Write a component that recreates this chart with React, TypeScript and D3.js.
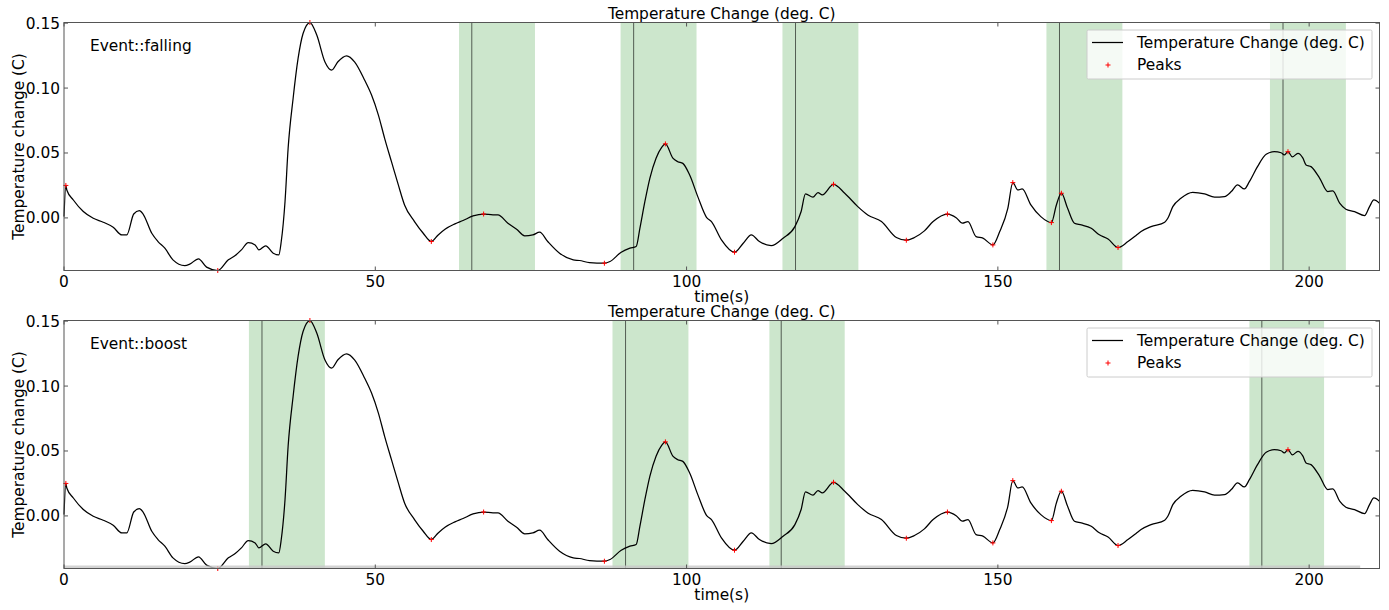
import React from "react";
import * as d3 from "d3";

// ---- data ----
const times = [0, 0.3, 0.45, 1.5, 3.1, 4.7, 6.3, 7.9, 9.3, 10.1, 11.2, 12.1, 12.7, 14.1, 15.1, 16.2, 17.5, 19.4, 20.2, 21.6, 22.9, 24.7, 26.4, 27.5, 28.5, 29.6, 30.7, 31.3, 32.4, 33.6, 34.5, 34.9, 35.5, 36.0, 36.8, 37.6, 38.4, 39.5, 40.6, 41.9, 43.0, 44.0, 45.4, 46.7, 48.3, 49.4, 50.5, 51.5, 52.6, 53.7, 54.7, 56.3, 57.7, 59.0, 60.1, 61.2, 62.8, 64.1, 65.7, 67.4, 68.9, 69.7, 71.3, 72.7, 74.0, 75.3, 76.4, 77.7, 79.6, 81.8, 82.8, 84.4, 86.8, 87.7, 89.5, 90.9, 91.9, 92.5, 93.3, 94.1, 95.1, 96.0, 96.6, 97.8, 98.6, 99.4, 100.5, 101.8, 103.2, 104.0, 105.6, 107.7, 109.1, 110.4, 111.7, 113.6, 115.5, 117.4, 118.4, 119.1, 120.3, 121.1, 121.8, 123.6, 125.4, 127.5, 129.1, 131.3, 133.7, 135.3, 136.6, 138.2, 139.6, 141.9, 143.3, 144.3, 145.2, 146.5, 147.6, 149.2, 150.3, 151.6, 152.4, 153.2, 153.9, 155.3, 156.9, 158.6, 159.4, 160.2, 161.2, 162.3, 163.4, 165.0, 166.3, 167.7, 169.3, 170.9, 172.2, 173.0, 174.6, 176.8, 177.3, 178.1, 179.4, 181.3, 183.2, 184.8, 186.4, 187.5, 188.5, 189.6, 190.4, 191.7, 193.1, 194.4, 195.5, 196.0, 196.6, 197.3, 198.2, 199.0, 199.5, 200.3, 201.7, 203.0, 203.8, 204.9, 205.9, 207.3, 208.9, 209.7, 210.4, 211.3];
const temps = [0.001, 0.025, 0.0215, 0.0138, 0.0049, -0.0003, -0.0033, -0.0072, -0.0131, -0.013, 0.003, 0.0056, 0.003, -0.0118, -0.0182, -0.0233, -0.0323, -0.0367, -0.0356, -0.0315, -0.0379, -0.0405, -0.0323, -0.029, -0.0246, -0.019, -0.0208, -0.0246, -0.0215, -0.0272, -0.0285, -0.018, 0.0125, 0.0536, 0.092, 0.1228, 0.142, 0.1505, 0.1408, 0.1203, 0.1138, 0.1203, 0.1248, 0.12, 0.106, 0.0946, 0.0792, 0.0613, 0.0433, 0.0254, 0.01, -0.0028, -0.0118, -0.0182, -0.0131, -0.0087, -0.0046, -0.002, 0.0015, 0.003, 0.0023, 0.0023, -0.0041, -0.0087, -0.0138, -0.0131, -0.011, -0.0182, -0.0272, -0.0323, -0.0328, -0.0344, -0.0349, -0.0336, -0.0264, -0.0233, -0.022, -0.008, 0.0125, 0.0305, 0.046, 0.0544, 0.057, 0.046, 0.0433, 0.042, 0.033, 0.0164, 0.0005, -0.0028, -0.0169, -0.0264, -0.0195, -0.0131, -0.0182, -0.0213, -0.0156, -0.0067, 0.0049, 0.0185, 0.016, 0.0195, 0.0178, 0.0259, 0.019, 0.0087, 0.0023, -0.0028, -0.0151, -0.0172, -0.0151, -0.01, -0.0028, 0.003, 0.0002, -0.0041, -0.0028, -0.0144, -0.0156, -0.0208, -0.0105, 0.0074, 0.0272, 0.0215, 0.0223, 0.01, 0.001, -0.0036, 0.01, 0.019, 0.0074, -0.0041, -0.0054, -0.008, -0.013, -0.0162, -0.0228, -0.0182, -0.0135, -0.0105, -0.0067, -0.0033, -0.0003, 0.0087, 0.0151, 0.0197, 0.0185, 0.016, 0.0164, 0.0203, 0.0254, 0.0223, 0.0279, 0.0395, 0.049, 0.051, 0.0502, 0.0485, 0.051, 0.047, 0.0497, 0.046, 0.0408, 0.0395, 0.0305, 0.0203, 0.0208, 0.0113, 0.0067, 0.0049, 0.0018, 0.0087, 0.0138, 0.0113];

const peakTimes = [0.3, 24.7, 39.5, 59.0, 67.4, 86.8, 96.6, 107.7, 123.6, 135.3, 141.9, 149.2, 152.4, 158.6, 160.2, 169.3, 196.6];
const peakValues = [0.025, -0.0405, 0.1505, -0.0182, 0.003, -0.0349, 0.057, -0.0264, 0.0259, -0.0172, 0.003, -0.0208, 0.0272, -0.0036, 0.019, -0.0228, 0.051];

const fallingStarts = [63.45, 89.4, 115.4, 157.8, 193.7];
const fallingEnds = [75.65, 101.6, 127.6, 170.0, 205.9];
const fallingMarks = [65.5, 91.5, 117.5, 159.9, 195.8];

const boostStarts = [29.7, 88.1, 113.3, 190.4];
const boostEnds = [41.9, 100.3, 125.4, 202.4];
const boostMarks = [31.8, 90.2, 115.2, 192.4];

const xTicks = [0, 50, 100, 150, 200];
const yTicks = [0, 0.05, 0.1, 0.15];
const yTickLabels = ["0.00", "0.05", "0.10", "0.15"];

const panelNames = ["Event::falling", "Event::boost"];
const titleText = "Temperature Change (deg. C)";
const xLabel = "time(s)";
const yLabel = "Temperature change (C)";
const legendLabels = ["Temperature Change (deg. C)", "Peaks"];
const noEventEnd = 208.2;

// ---- layout ----
const W = 1389;
const H = 610;
const L = 64;
const R = 1379.5;
const FONT = "DejaVu Sans, sans-serif";
const FS = 15.4;

function Panel({ top, bottom, name, starts, ends, marks, grayBand }) {
  const x = d3.scaleLinear().domain([0, 211.3]).range([L, R]);
  const y = d3.scaleLinear().domain([-0.0405, 0.1505]).range([bottom, top]);
  const line = d3
    .line<number>()
    .x((_, i) => x(times[i]))
    .y((d) => y(d))
    .curve(d3.curveMonotoneX);
  const tl = 4;
  const cx = (L + R) / 2;
  return (
    <g>
      {starts.map((s, i) => (
        <rect key={"s" + i} x={x(s)} y={top} width={x(ends[i]) - x(s)} height={bottom - top} fill="#008000" fillOpacity={0.2} />
      ))}
      {marks.map((m, i) => (
        <line key={"m" + i} x1={x(m)} x2={x(m)} y1={top} y2={bottom} stroke="#000" strokeOpacity={0.6} strokeWidth={1} />
      ))}
      <path d={line(temps) || ""} fill="none" stroke="#000" strokeWidth={1.25} />
      {peakTimes.map((t, i) => (
        <g key={"p" + i} stroke="#ff0000" strokeWidth={1}>
          <line x1={x(t) - 2.5} x2={x(t) + 2.5} y1={y(peakValues[i])} y2={y(peakValues[i])} />
          <line x1={x(t)} x2={x(t)} y1={y(peakValues[i]) - 2.5} y2={y(peakValues[i]) + 2.5} />
        </g>
      ))}
      {grayBand && (
        <rect x={x(0)} y={bottom - 3} width={x(noEventEnd) - x(0)} height={3} fill="#c8c8c8" opacity={0.8} />
      )}
      <rect x={L} y={top} width={R - L} height={bottom - top} fill="none" stroke="#555" strokeWidth={1} />
      {xTicks.map((t) => (
        <g key={"xt" + t}>
          <line x1={x(t)} x2={x(t)} y1={bottom} y2={bottom - tl} stroke="#555" />
          <line x1={x(t)} x2={x(t)} y1={top} y2={top + tl} stroke="#555" />
          <text x={x(t)} y={bottom + 16} textAnchor="middle" fontFamily={FONT} fontSize={FS} fill="#000">
            {t}
          </text>
        </g>
      ))}
      {yTicks.map((t, i) => (
        <g key={"yt" + t}>
          <line x1={L} x2={L + tl} y1={y(t)} y2={y(t)} stroke="#555" />
          <line x1={R} x2={R - tl} y1={y(t)} y2={y(t)} stroke="#555" />
          <text x={60} y={y(t) + 5.5} textAnchor="end" fontFamily={FONT} fontSize={FS} fill="#000">
            {yTickLabels[i]}
          </text>
        </g>
      ))}
      <text x={cx} y={top - 3.5} textAnchor="middle" fontFamily={FONT} fontSize={FS} fill="#000">
        {titleText}
      </text>
      <text x={cx} y={bottom + 31} textAnchor="middle" fontFamily={FONT} fontSize={FS} fill="#000">
        {xLabel}
      </text>
      <text
        transform={`translate(24, ${(top + bottom) / 2}) rotate(-90)`}
        textAnchor="middle"
        fontFamily={FONT}
        fontSize={FS}
        fill="#000"
      >
        {yLabel}
      </text>
      <text x={90} y={top + 28.5} fontFamily={FONT} fontSize={FS} fill="#000">
        {name}
      </text>
      <g>
        <rect x={1087} y={top + 7.5} width={285} height={49} fill="#fff" fillOpacity={0.8} stroke="#cccccc" strokeWidth={1} rx={1.5} />
        <line x1={1092} x2={1123} y1={top + 20} y2={top + 20} stroke="#000" strokeWidth={1.25} />
        <g stroke="#ff0000" strokeWidth={1}>
          <line x1={1105.5} x2={1110.5} y1={top + 42.5} y2={top + 42.5} />
          <line x1={1108} x2={1108} y1={top + 40} y2={top + 45} />
        </g>
        <text x={1137} y={top + 25} fontFamily={FONT} fontSize={FS} fill="#000">
          {legendLabels[0]}
        </text>
        <text x={1137} y={top + 47.5} fontFamily={FONT} fontSize={FS} fill="#000">
          {legendLabels[1]}
        </text>
      </g>
    </g>
  );
}

export default function App() {
  return (
    <svg width={W} height={H} style={{ position: "absolute", left: 0, top: 0, background: "#fff" }}>
      <rect x={0} y={0} width={W} height={H} fill="#fff" />
      <Panel top={22.5} bottom={270.5} name={panelNames[0]} starts={fallingStarts} ends={fallingEnds} marks={fallingMarks} grayBand={false} />
      <Panel top={320.5} bottom={568.5} name={panelNames[1]} starts={boostStarts} ends={boostEnds} marks={boostMarks} grayBand={true} />
    </svg>
  );
}
